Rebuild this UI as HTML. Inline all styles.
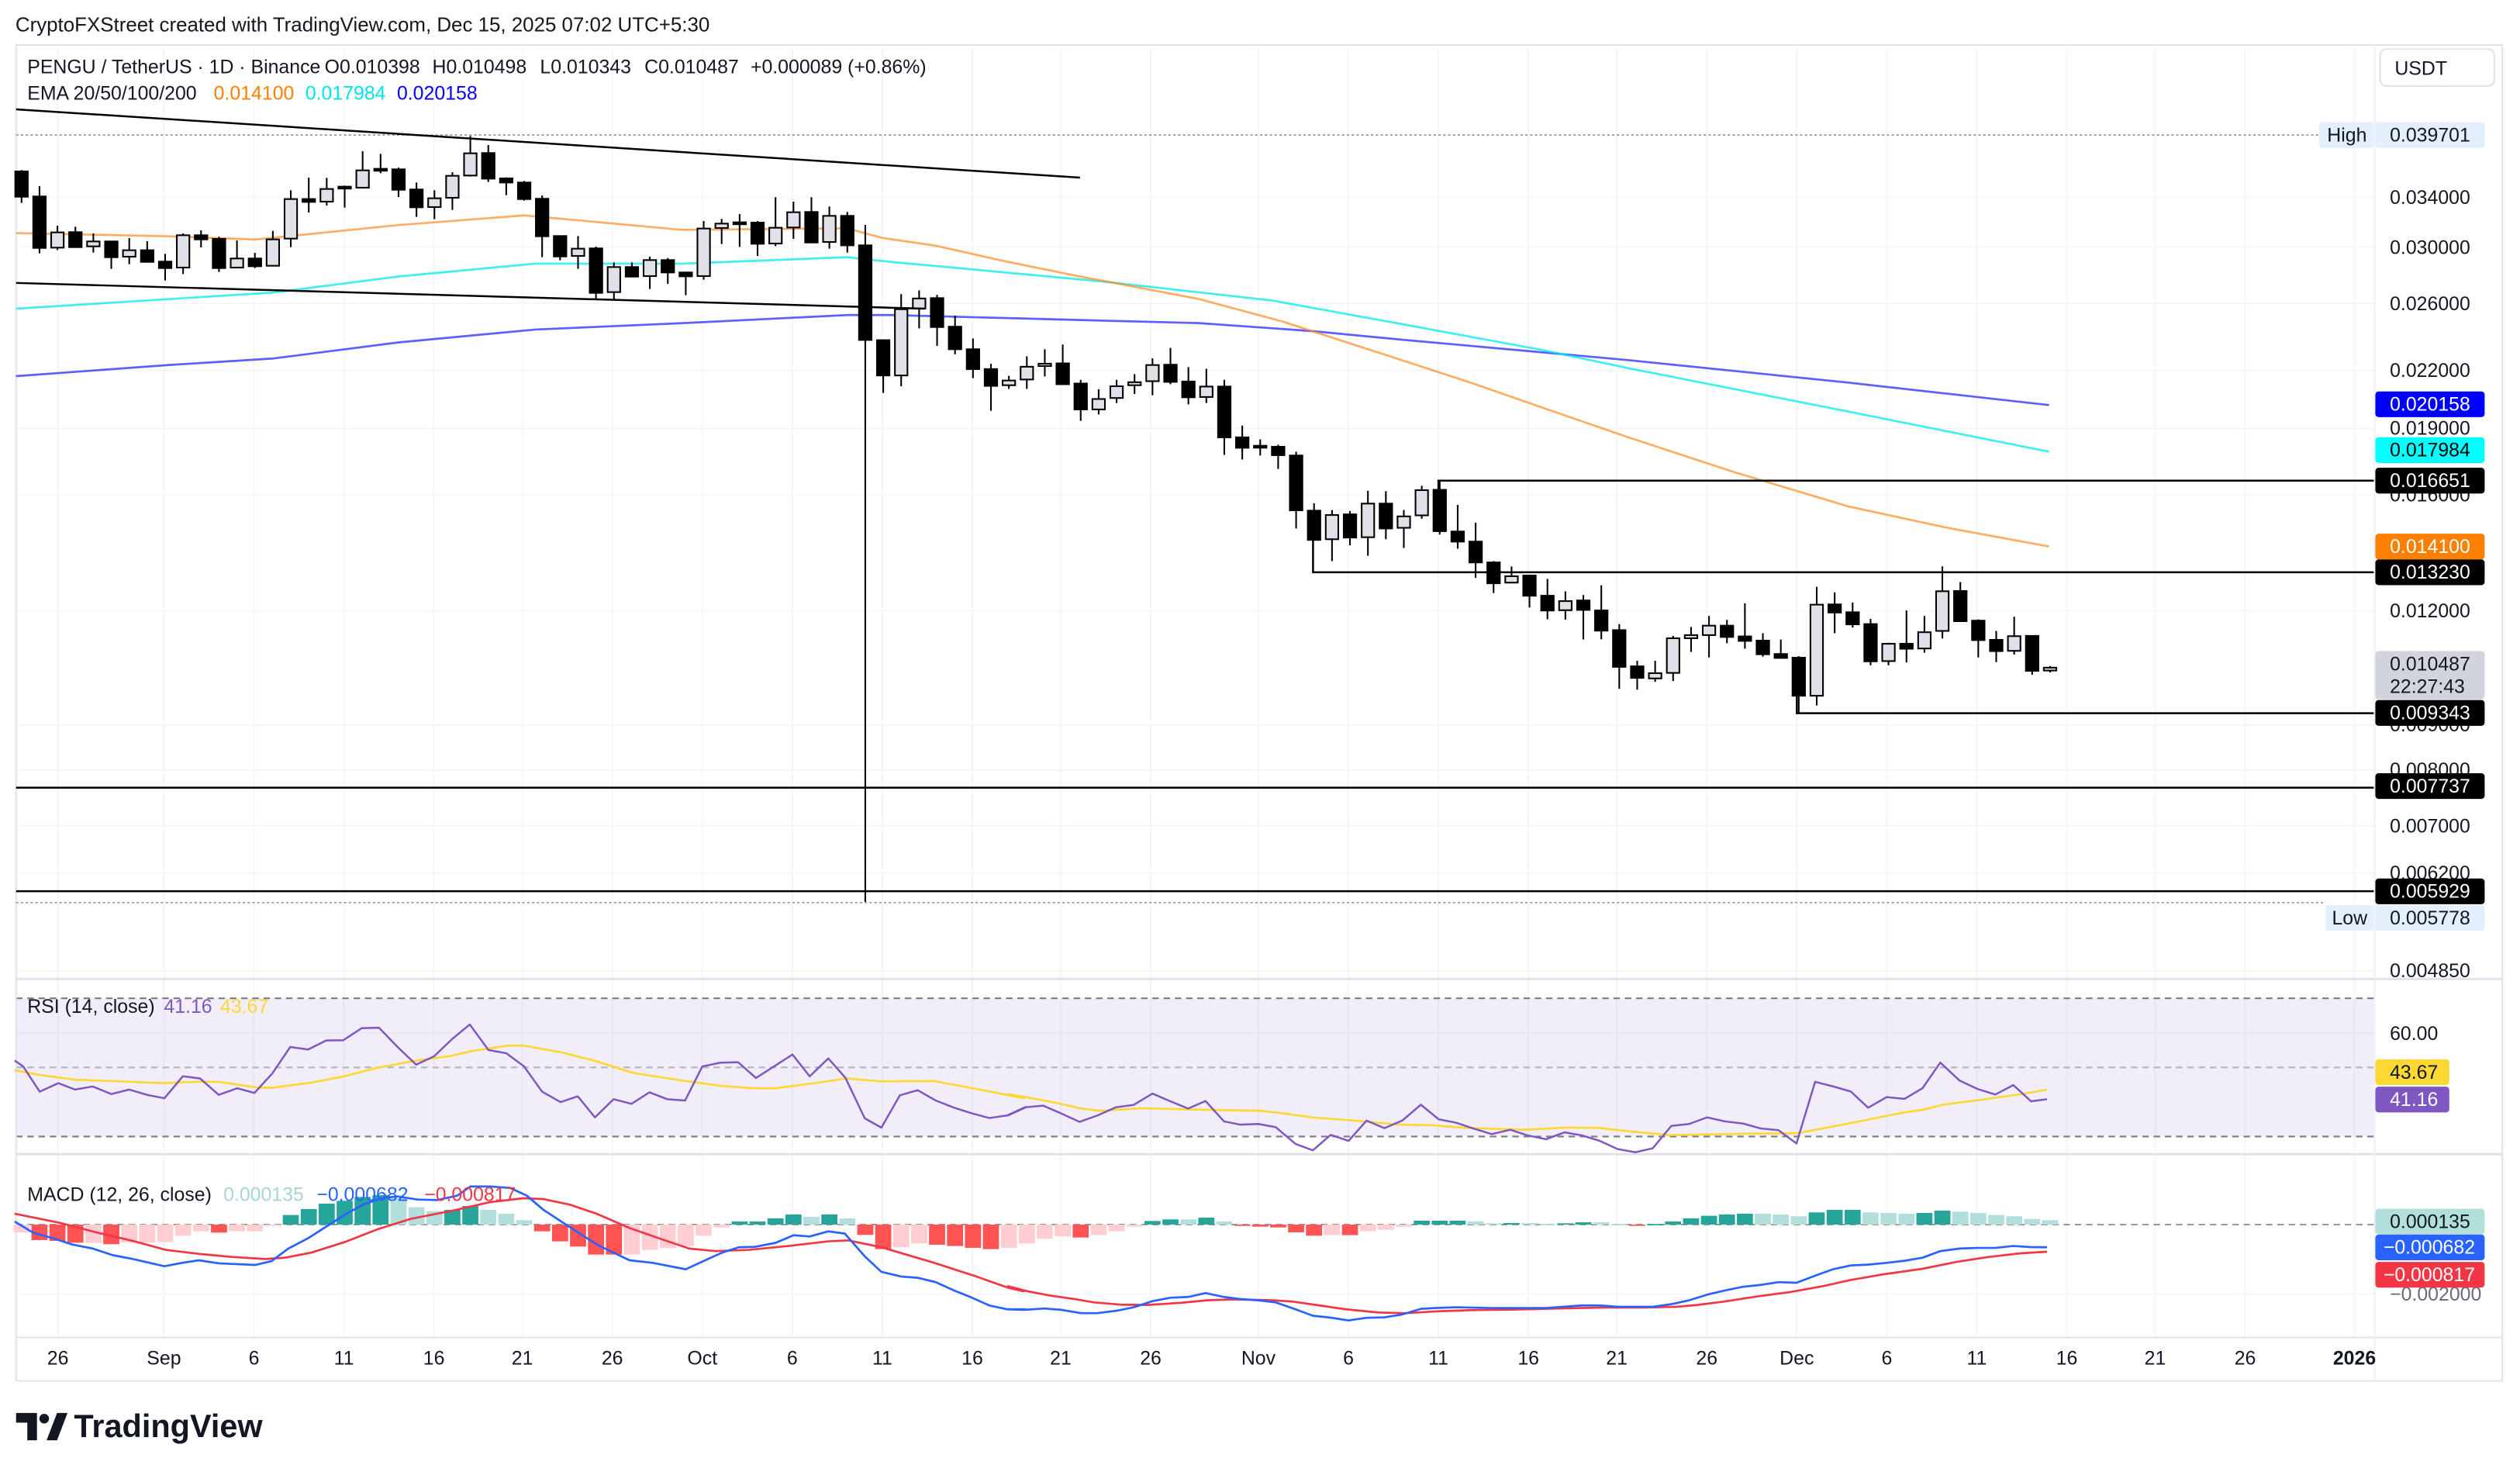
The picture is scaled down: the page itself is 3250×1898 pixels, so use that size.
<!DOCTYPE html>
<html><head><meta charset="utf-8"><style>
html,body{margin:0;padding:0;background:#fff;}
svg{display:block;}
text{font-family:"Liberation Sans",Arial,sans-serif;}
</style></head><body>
<svg id="s" xmlns="http://www.w3.org/2000/svg" width="3250" height="1898" viewBox="0 0 1568 915.7">
<rect x="0" y="0" width="1568" height="916" fill="#fff"/>
<g id="grid"></g>
<rect x="10" y="621" width="1467" height="86" fill="#7e57c2" fill-opacity="0.1"/>
<line x1="10" y1="621" x2="1477" y2="621" stroke="#787b86" stroke-dasharray="4 3"/>
<line x1="10" y1="664" x2="1477" y2="664" stroke="#b2b5be" stroke-dasharray="4 3"/>
<line x1="10" y1="707" x2="1477" y2="707" stroke="#787b86" stroke-dasharray="4 3"/>
<line x1="10" y1="761.8" x2="1477" y2="761.8" stroke="#9598a1" stroke-dasharray="4 3"/>
<rect x="10" y="28" width="1547" height="831" fill="none" stroke="#e0e3eb" stroke-width="1"/>
<line x1="10" y1="609" x2="1557" y2="609" stroke="#e0e3eb" stroke-width="1.5"/>
<line x1="10" y1="718" x2="1557" y2="718" stroke="#e0e3eb" stroke-width="1.5"/>
<line x1="10" y1="832" x2="1557" y2="832" stroke="#e0e3eb" stroke-width="1"/>
<line x1="1477.5" y1="28" x2="1477.5" y2="859" stroke="#eef0f4" stroke-width="1"/>
<line x1="10" y1="84" x2="1443" y2="84" stroke="#9598a1" stroke-dasharray="1.5 1.5" stroke-width="0.8"/>
<line x1="10" y1="561.5" x2="1447" y2="561.5" stroke="#9598a1" stroke-dasharray="1.5 1.5" stroke-width="0.8"/>
<g id="plot"></g>
<g stroke="#000" stroke-width="1.2" fill="none">
<polyline points="895,304.7 895,299 1477,299"/>
<polyline points="817,335 817,356 1477,356"/>
<polyline points="1118,432.8 1118,443.7 1477,443.7"/>
<line x1="10" y1="490" x2="1477" y2="490"/>
<line x1="10" y1="554.4" x2="1477" y2="554.4"/>
<line x1="10" y1="68" x2="672" y2="110.5"/>
<line x1="10" y1="176" x2="575" y2="192"/>
</g>
<text x="9.6" y="19.5" font-size="12.5" fill="#131722">CryptoFXStreet created with TradingView.com, Dec 15, 2025 07:02 UTC+5:30</text>
<g font-size="12" fill="#131722">
<text x="17" y="45.5">PENGU / TetherUS · 1D · Binance</text>
<text x="202" y="45.5">O0.010398</text>
<text x="269" y="45.5">H0.010498</text>
<text x="336" y="45.5">L0.010343</text>
<text x="401" y="45.5">C0.010487</text>
<text x="467" y="45.5">+0.000089 (+0.86%)</text>
<text x="17" y="62">EMA 20/50/100/200</text>
<text x="133" y="62" fill="#ff7f00">0.014100</text>
<text x="190" y="62" fill="#00e5e5">0.017984</text>
<text x="247" y="62" fill="#0000ff">0.020158</text>
<text x="17" y="630">RSI (14, close)</text>
<text x="102" y="630" fill="#7e57c2">41.16</text>
<text x="137" y="630" fill="#fdd835">43.67</text>
<text x="17" y="747">MACD (12, 26, close)</text>
<text x="139" y="747" fill="#a5d8d2">0.000135</text>
<text x="197" y="747" fill="#2962ff">−0.000682</text>
<text x="264" y="747" fill="#f23645">−0.000817</text>
</g>
<rect x="1481" y="30.5" width="71" height="23" rx="4" fill="#fff" stroke="#e0e3eb"/>
<text x="1490" y="46.5" font-size="12" fill="#131722">USDT</text>
<g font-size="12" fill="#131722">
<text x="1487" y="127">0.034000</text>
<text x="1487" y="158">0.030000</text>
<text x="1487" y="193">0.026000</text>
<text x="1487" y="234.5">0.022000</text>
<text x="1487" y="270.5">0.019000</text>
<text x="1487" y="312">0.016000</text>
<text x="1487" y="384">0.012000</text>
<text x="1487" y="455">0.009000</text>
<text x="1487" y="483">0.008000</text>
<text x="1487" y="518">0.007000</text>
<text x="1487" y="547">0.006200</text>
<text x="1487" y="608">0.004850</text>
<text x="1487" y="647">60.00</text>
<text x="1487" y="809" fill="#6a6d78">−0.002000</text>
</g>
<g font-size="12">
<rect x="1443" y="76" width="34" height="16" rx="2" fill="#e3effd"/><text x="1448" y="88" fill="#131722">High</text>
<rect x="1478" y="76" width="68" height="16" rx="2" fill="#e3effd"/><text x="1487" y="88" fill="#131722">0.039701</text>
<rect x="1478" y="243.5" width="68" height="16" rx="2" fill="#0000ff"/><text x="1487" y="255.5" fill="#fff">0.020158</text>
<rect x="1478" y="272" width="68" height="16" rx="2" fill="#00ffff"/><text x="1487" y="284" fill="#000">0.017984</text>
<rect x="1478" y="291" width="68" height="16" rx="2" fill="#000"/><text x="1487" y="303" fill="#fff">0.016651</text>
<rect x="1478" y="332" width="68" height="16" rx="2" fill="#ff7f00"/><text x="1487" y="344" fill="#fff">0.014100</text>
<rect x="1478" y="348" width="68" height="16" rx="2" fill="#000"/><text x="1487" y="360" fill="#fff">0.013230</text>
<rect x="1478" y="405" width="68" height="30" rx="2" fill="#d1d4dc"/><text x="1487" y="417" fill="#131722">0.010487</text><text x="1487" y="431" fill="#131722">22:27:43</text>
<rect x="1478" y="435.5" width="68" height="16" rx="2" fill="#000"/><text x="1487" y="447.5" fill="#fff">0.009343</text>
<rect x="1478" y="481" width="68" height="16" rx="2" fill="#000"/><text x="1487" y="493" fill="#fff">0.007737</text>
<rect x="1478" y="546.5" width="68" height="16" rx="2" fill="#000"/><text x="1487" y="558.5" fill="#fff">0.005929</text>
<rect x="1447" y="563" width="30" height="16" rx="2" fill="#e3effd"/><text x="1451" y="575" fill="#131722">Low</text>
<rect x="1478" y="563" width="68" height="16" rx="2" fill="#e3effd"/><text x="1487" y="575" fill="#131722">0.005778</text>
<rect x="1478" y="659" width="46" height="16" rx="2" fill="#fdd835"/><text x="1487" y="671" fill="#131722">43.67</text>
<rect x="1478" y="676" width="46" height="16" rx="2" fill="#7e57c2"/><text x="1487" y="688" fill="#fff">41.16</text>
<rect x="1478" y="752" width="68" height="16" rx="2" fill="#b2dfdb"/><text x="1487" y="764" fill="#131722">0.000135</text>
<rect x="1478" y="768" width="68" height="16" rx="2" fill="#2962ff"/><text x="1483" y="780" fill="#fff">−0.000682</text>
<rect x="1478" y="785" width="68" height="16" rx="2" fill="#f23645"/><text x="1483" y="797" fill="#fff">−0.000817</text>
</g>
<g font-size="12" fill="#131722" text-anchor="middle">
<text x="36" y="849">26</text><text x="102" y="849">Sep</text><text x="158" y="849">6</text><text x="214" y="849">11</text><text x="270" y="849">16</text><text x="325" y="849">21</text><text x="381" y="849">26</text><text x="437" y="849">Oct</text><text x="493" y="849">6</text><text x="549" y="849">11</text><text x="605" y="849">16</text><text x="660" y="849">21</text><text x="716" y="849">26</text><text x="783" y="849">Nov</text><text x="839" y="849">6</text><text x="895" y="849">11</text><text x="951" y="849">16</text><text x="1006" y="849">21</text><text x="1062" y="849">26</text><text x="1118" y="849">Dec</text><text x="1174" y="849">6</text><text x="1230" y="849">11</text><text x="1286" y="849">16</text><text x="1341" y="849">21</text><text x="1397" y="849">26</text><text x="1465" y="849" font-weight="bold">2026</text>
</g>
<g fill="#131722">
<path d="M10 879 h13 v17 h-6 v-11 h-7z"/>
<circle cx="27.5" cy="882.5" r="3"/>
<polygon points="29,896 35.5,879 42,879 35.5,896"/>
<text x="46" y="894" font-size="20" font-weight="bold">TradingView</text>
</g>
<script>
(function(){
var NS="http://www.w3.org/2000/svg";
var grid=document.getElementById("grid"), plot=document.getElementById("plot");
function el(p,n,a){var e=document.createElementNS(NS,n);for(var k in a)e.setAttribute(k,a[k]);p.appendChild(e);return e;}
[36,102,158,214,270,325,381,437,493,549,605,660,716,783,839,895,951,1006,1062,1118,1174,1230,1286,1341,1397,1465].forEach(function(x){el(grid,"line",{x1:x,y1:30,x2:x,y2:832,stroke:"#f3f4f7","stroke-width":0.8});});
[122.8,153.6,188.8,230.4,266.4,308,380,451,479,513.6,543,604,642.5,805].forEach(function(y){el(grid,"line",{x1:10,y1:y,x2:1477,y2:y,stroke:"#f3f4f7","stroke-width":0.8});});
function X(i){return 13.4+(i-1)*11.17;}
function poly(pts,fx,fy,col,w,op){var s=pts.map(function(p){return (fx(p[0])).toFixed(1)+","+(fy(p[1])).toFixed(1);}).join(" ");el(plot,"polyline",{points:s,fill:"none",stroke:col,"stroke-width":w,"stroke-opacity":op||1,"stroke-linejoin":"round"});}
var id=function(v){return v;};
poly([[10,234],[106,227],[170,223],[248,213],[333,205],[425,201],[527,196],[555,196],[746,201],[817,206],[869,211],[1013,224],[1150,238],[1275,252]],id,id,"#2a2aff",1.3,0.75);
poly([[10,192],[106,186],[170,182],[248,172],[333,164],[425,164],[527,160],[555,163],[577,165],[685,175],[792,187],[869,201],[961,218],[1013,229],[1150,256],[1275,281]],id,id,"#00eaea",1.3,0.75);
poly([[10,145],[106,147],[159,149],[248,140],[326,134],[425,143],[527,142],[549,148],[583,153],[623,162],[672,172],[746,186],[798,200],[869,223],[915,238],[961,254],[1013,272],[1080,294],[1150,315],[1210,328],[1275,340]],id,id,"#ff8a1f",1.3,0.7);
var g3=[[213,311,208,335,0],[310,509,270,530,0],[449,508,423,517,1],[448,506,427,506,0],[484,503,453,527,1],[484,545,484,590,0],[518,543,471,572,1],[518,563,483,563,0],[562,587,532,635,0],[460,585,453,610,1],[460,476,441,507,0],[474,587,466,602,0],[550,585,480,587,1],[550,580,528,587,0],[476,578,443,578,1],[320,473,286,506,1],[320,331,237,372,0],[281,330,238,345,1],[272,276,268,353,0],[209,276,135,276,1],[203,206,145,220,0],[205,284,198,312,0],[283,352,256,389,0],[317,351,286,398,1],[230,315,216,362,1],[143,229,76,233,1],[142,241,111,254,0],[240,256,236,305,0],[256,320,250,326,0],[319,464,306,545,0],[463,542,463,557,0],[512,540,463,590,1],[511,683,504,705,0],[583,680,565,708,1],[583,620,565,623,0],[556,618,543,668,1],[556,604,548,648,0],[604,619,602,692,0],[434,618,405,632,1],[415,432,397,494,1],[410,412,378,505,0],[411,493,405,540,0],[431,492,313,502,1],[371,430,330,474,1],[370,488,313,488,0],[385,486,349,512,1],[385,499,370,527,0],[499,865,420,3039,0]];
var g4=[[435,540,435,592,0],[343,540,298,572,1],[311,341,287,400,1],[310,396,300,452,0],[395,462,362,477,0],[462,521,430,548,0],[521,571,505,645,0],[555,569,541,580,1],[514,552,483,580,1],[505,512,462,543,1],[504,566,448,566,0],[564,641,553,675,0],[610,641,581,656,1],[572,607,553,622,1],[560,569,536,595,1],[509,557,489,599,1],[508,559,458,566,0],[558,605,515,626,0],[573,604,520,622,1],[573,724,553,776,0],[724,755,689,790,0],[749,752,730,778,0],[752,777,746,818,0],[778,941,767,995,0],[942,1029,920,1029,0],[955,1027,940,1092,1],[953,1022,943,1045,0],[921,1021,883,1076,1],[921,995,884,1027,0],[959,993,940,1053,1],[881,956,868,966,1],[880,1003,852,1013,0],[1004,1034,925,1055,0],[1034,1096,978,1142,0],[1096,1158,1092,1187,0],[1137,1156,1108,1158,1],[1135,1195,1133,1230,0],[1195,1239,1145,1265,0],[1211,1238,1182,1266,1],[1209,1237,1193,1325,0]];
var g5=[[198,275,102,308,0],[273,413,250,497,0],[411,455,390,500,0],[437,457,390,470,1],[304,436,295,467,1],[292,304,261,356,1],[256,292,219,377,1],[256,299,234,323,0],[297,314,171,344,0],[313,365,285,374,0],[364,379,309,379,0],[378,523,372,590,0],[176,523,108,560,1],[175,206,129,285,0],[205,251,168,263,0],[250,392,230,407,0],[325,391,321,407,1],[325,344,198,396,0],[281,343,219,359,1],[125,276,30,305,1],[124,239,90,239,0],[237,311,232,377,0],[310,353,276,395,0],[296,352,222,366,1],[295,428,295,443,0],[416,427,410,434,1]];
function drawC(arr,start,fy){arr.forEach(function(c,k){var i=start+k,x=X(i);var t=fy(c[0]),b=fy(c[1]),wt=fy(c[2]),wb=fy(c[3]);
 el(plot,"line",{x1:x,y1:wt,x2:x,y2:wb,stroke:"#000","stroke-width":1});
 var h=Math.max(b-t,1.2);
 el(plot,"rect",{x:x-3.9,y:t,width:7.8,height:h,fill:c[4]?"#e0e1e8":"#000",stroke:"#000","stroke-width":1});});}
drawC(g3,1,function(v){return 72.37+v*0.1608;});
drawC(g4,49,function(v){return 120.6+v*0.2092;});
drawC(g5,89,function(v){return 347.4+v*0.1633;});
var fx6=function(v){return v*0.4123;},fx7=function(v){return 627.2+v*0.4123;},fyL=function(v){return 607.9+v*0.1608;};
var rsi6=[[22,322],[35,345],[60,443],[88,410],[113,435],[140,423],[168,452],[195,435],[222,455],[248,468],[276,383],[302,392],[330,455],[358,430],[384,448],[411,372],[438,270],[465,280],[492,245],[518,244],[546,197],[572,195],[600,270],[628,338],[655,306],[682,240],[709,183],[737,282],[764,294],[791,345],[818,443],[846,483],[872,461],[898,542],[926,472],[953,490],[980,445],[1007,472],[1034,477],[1060,345],[1087,331],[1114,329],[1141,390],[1168,345],[1196,299],[1222,384],[1250,314],[1276,390],[1305,546],[1330,582],[1358,457],[1385,437],[1412,477],[1440,505],[1467,527],[1493,545],[1520,535],[1548,502]];
var rsi7=[[0,535],[27,503],[53,497],[80,527],[108,560],[135,535],[163,503],[190,494],[218,450],[245,480],[272,508],[298,479],[326,558],[350,570],[378,568],[404,580],[434,645],[460,670],[487,610],[514,633],[541,555],[568,584],[595,555],[623,493],[650,550],[676,563],[703,586],[730,607],[758,590],[784,612],[812,627],[840,600],[866,612],[893,633],[920,665],[947,677],[973,662],[1001,575],[1028,568],[1055,542],[1082,558],[1109,566],[1136,585],[1163,592],[1190,643],[1218,405],[1245,422],[1272,442],[1298,505],[1326,464],[1353,471],[1380,430],[1407,330],[1436,400],[1463,432],[1490,454],[1517,417],[1544,480],[1568,472]];
var ma6=[[22,360],[60,378],[115,397],[180,403],[245,410],[300,404],[330,405],[390,427],[410,428],[470,408],[520,383],[570,350],[630,322],[680,305],[710,287],[765,265],[790,264],[850,292],[900,325],[955,370],[1030,400],[1090,421],[1140,430],[1170,430],[1230,410],[1278,392],[1330,403],[1410,402],[1490,440],[1545,468]];
var ma7=[[0,452],[40,470],[80,490],[110,508],[140,517],[200,507],[280,512],[380,517],[410,525],[460,543],[520,554],[590,570],[640,573],[690,583],[780,590],[840,582],[890,583],[940,597],[1000,611],[1060,608],[1120,605],[1190,604],[1260,570],[1300,550],[1350,524],[1380,513],[1410,494],[1480,470],[1530,452],[1568,435]];
function merge(a,b){return a.map(function(p){return [fx6(p[0]),fyL(p[1])];}).concat(b.map(function(p){return [fx7(p[0]),fyL(p[1])];}));}
poly(merge(ma6,ma7),id,id,"#fdd835",1.3);
poly(merge(rsi6,rsi7),id,id,"#7e57c2",1.2);
var h6=[[987,'l'],[1017,'r'],[1020,'r'],[1027,'r'],[1028,'l'],[1033,'r'],[1027,'l'],[1027,'l'],[1025,'l'],[1000,'l'],[983,'l'],[988,'r'],[983,'l'],[983,'l'],[962,'l'],[920,'g'],[897,'g'],[876,'g'],[865,'g'],[850,'g'],[843,'g'],[855,'G'],[890,'G'],[905,'G'],[900,'g'],[885,'g'],[900,'G'],[915,'G'],[940,'G'],[983,'r'],[1022,'r'],[1042,'r'],[1073,'r'],[1073,'r'],[1073,'l'],[1055,'l'],[1048,'l'],[1040,'l'],[1000,'l'],[968,'l'],[945,'g'],[945,'g'],[933,'g'],[918,'g'],[927,'G'],[918,'g'],[933,'G'],[997,'r'],[1052,'r'],[1045,'l'],[1030,'l'],[1035,'r'],[1040,'r'],[1047,'r'],[1052,'r'],[1047,'l'],[1030,'l']];
var h7=[[1012,'l'],[1003,'l'],[1007,'r'],[998,'l'],[983,'l'],[965,'l'],[943,'g'],[937,'g'],[937,'G'],[930,'g'],[945,'G'],[960,'r'],[965,'r'],[968,'r'],[987,'r'],[1000,'r'],[998,'l'],[998,'r'],[983,'l'],[977,'l'],[965,'l'],[942,'g'],[942,'g'],[942,'g'],[945,'G'],[952,'G'],[951,'g'],[951,'G'],[955,'G'],[952,'g'],[948,'g'],[948,'G'],[955,'G'],[960,'r'],[955,'g'],[945,'g'],[933,'g'],[923,'g'],[918,'g'],[915,'g'],[915,'G'],[918,'G'],[925,'G'],[910,'g'],[900,'g'],[900,'g'],[910,'G'],[912,'G'],[915,'G'],[912,'g'],[903,'g'],[907,'G'],[912,'G'],[920,'G'],[925,'G'],[935,'G'],[940,'G']];
var cols={g:"#26a69a",G:"#b2dfdb",r:"#ff5252",l:"#ffcdd2"};
var zero=761.8;
h6.concat(h7).forEach(function(b,k){var x=X(k+1),y=fyL(b[0]);var t=Math.min(y,zero),h=Math.max(Math.abs(y-zero),0.8);el(plot,"rect",{x:x-5,y:t,width:10,height:h,fill:cols[b[1]]});});
var b6=[[22,945],[50,988],[80,1010],[110,1035],[140,1050],[170,1075],[200,1090],[248,1118],[275,1105],[300,1095],[330,1107],[385,1113],[410,1098],[435,1050],[465,1010],[492,965],[520,920],[548,880],[575,855],[600,848],[630,860],[660,862],[690,845],[710,810],[740,810],[770,815],[795,845],[820,900],[850,950],[880,1000],[905,1040],[950,1095],[985,1105],[1035,1130],[1060,1100],[1090,1065],[1115,1045],[1140,1043],[1170,1028],[1198,998],[1222,1003],[1250,983],[1275,992],[1305,1080],[1330,1140],[1360,1158],[1385,1163],[1412,1180],[1440,1212],[1467,1240],[1493,1270],[1520,1285],[1548,1285]];
var b7=[[0,1285],[25,1287],[55,1282],[80,1287],[110,1300],[135,1300],[165,1290],[190,1277],[218,1253],[245,1240],[272,1237],[298,1222],[326,1237],[350,1245],[378,1250],[404,1258],[434,1285],[460,1310],[487,1317],[514,1328],[541,1318],[568,1316],[595,1305],[623,1283],[650,1279],[676,1277],[730,1280],[780,1280],[812,1280],[866,1270],[893,1270],[920,1275],[973,1275],[1001,1265],[1028,1250],[1055,1228],[1082,1212],[1109,1198],[1136,1190],[1163,1180],[1190,1182],[1218,1155],[1245,1130],[1272,1115],[1298,1112],[1326,1105],[1353,1097],[1380,1085],[1407,1060],[1436,1050],[1463,1047],[1490,1047],[1517,1040],[1544,1044],[1568,1045]];
var r6=[[22,915],[90,950],[150,990],[200,1020],[250,1055],[300,1070],[350,1082],[400,1090],[430,1085],[470,1065],[520,1025],[570,975],[620,935],[680,905],[740,870],[790,855],[820,858],[860,880],[900,915],[950,970],[1000,1015],[1040,1050],[1080,1060],[1130,1055],[1190,1040],[1250,1022],[1280,1018],[1330,1045],[1410,1105],[1470,1155],[1520,1200],[1545,1215]];
var r7=[[0,1195],[30,1215],[60,1230],[100,1245],[130,1258],[170,1267],[210,1268],[260,1260],[300,1250],[340,1246],[400,1250],[430,1255],[470,1270],[510,1285],[560,1297],[600,1300],[650,1292],[700,1288],[760,1286],[830,1282],[900,1278],[960,1278],[1010,1275],[1040,1268],[1080,1255],[1130,1235],[1180,1218],[1230,1195],[1270,1172],[1320,1150],[1380,1128],[1430,1102],[1480,1082],[1530,1068],[1568,1062]];
poly(merge(r6,r7),id,id,"#f23645",1.3);
poly(merge(b6,b7),id,id,"#2962ff",1.3);
})();
</script>
</svg>
</body></html>
